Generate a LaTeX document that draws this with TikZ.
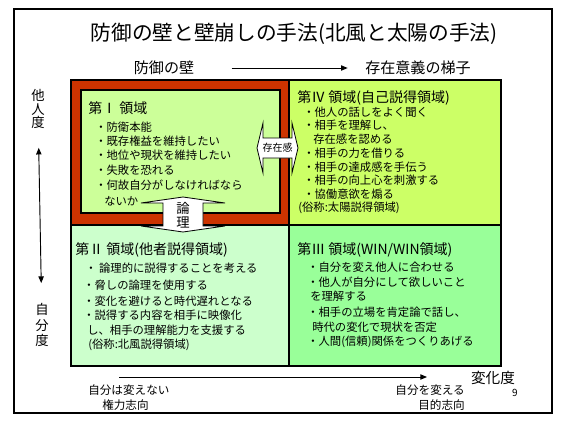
\documentclass[tikz,border=0pt]{standalone}
\usepackage{fontspec}
\setmainfont{Noto Sans CJK JP}
\usetikzlibrary{arrows.meta}
\definecolor{wallred}{HTML}{CC3300}
\definecolor{areaone}{HTML}{CCFF99}
\definecolor{areatwo}{HTML}{CCFFCC}
\definecolor{areathree}{HTML}{99FF99}
\definecolor{areafour}{HTML}{CCFF66}
\tikzset{
  pageframe/.style={draw=black, line width=0.8pt},
  gridline/.style={draw=black, line width=1.6pt},
  innerwall/.style={draw=black, fill=areaone, line width=1.6pt},
  axis/.style={-{Triangle[length=5pt,width=4pt]}, line width=0.7pt},
  bothaxis/.style={{Triangle[length=5pt,width=4pt]}-{Triangle[length=5pt,width=4pt]}, line width=0.7pt},
  arrowshape/.style={draw=black, fill=white, line width=0.6pt},
  headline/.style={inner sep=0pt, font=\fontsize{15.5}{18}\selectfont},
  sublabel/.style={inner sep=0pt, font=\fontsize{11.3}{13}\selectfont},
  sidelabel/.style={inner sep=0pt, align=center, font=\fontsize{10}{10.3}\selectfont},
  areatitle/.style={anchor=west, inner sep=0pt, font=\fontsize{10.5}{12}\selectfont},
  item/.style={anchor=west, inner sep=0pt, font=\fontsize{8.5}{10}\selectfont},
  axislabel/.style={inner sep=0pt, font=\fontsize{8.7}{10}\selectfont},
  arrowlabel/.style={inner sep=0pt, align=center}
}

\begin{document}
\begin{tikzpicture}[x=0.75pt, y=-0.75pt]
  \useasboundingbox (0,0) rectangle (564,421);
  \draw[pageframe] (14,9) rectangle (552,413);

  % heading
  \node[headline] (title) at (294,34) {防御の壁と壁崩しの手法(北風と太陽の手法)};
  \node[sublabel] (wall) at (164,68) {防御の壁};
  \node[sublabel] (ladder) at (418,68) {存在意義の梯子};
  \draw[axis, shorten <=28pt, shorten >=13pt] (wall) -- (ladder);

  % side axis
  \node[sidelabel] (other) at (38,109) {他\\人\\度};
  \node[sidelabel, font=\fontsize{10}{11.6}\selectfont] (self) at (42,325) {自\\分\\度};
  \draw[bothaxis, shorten <=14pt, shorten >=15pt] (other) -- (self);

  % four areas
  \fill[wallred] (71,80) rectangle (289,225);
  \fill[areafour] (289,80) rectangle (501,225);
  \fill[areatwo] (71,225) rectangle (289,366);
  \fill[areathree] (289,225) rectangle (501,366);
  \draw[innerwall] (81,90) rectangle (280,213);
  \draw[gridline] (71,80) rectangle (501,366);
  \draw[gridline] (289,80) -- (289,366);
  \draw[gridline] (71,225) -- (501,225);

  % area I
  \node[areatitle] (q1title) at (88,108) {第Ⅰ 領域};
  \node[item] (q1a) at (95,127) {・防衛本能};
  \node[item] (q1b) at (95,141) {・既存権益を維持したい};
  \node[item] (q1c) at (95,155) {・地位や現状を維持したい};
  \node[item] (q1d) at (95,170) {・失敗を恐れる};
  \node[item] (q1e) at (95,185) {・何故自分がしなければなら};
  \node[item] (q1f) at (104,201) {ないか};

  % area IV
  \node[areatitle] (q4title) at (297,98) {第Ⅳ 領域(自己説得領域)};
  \node[item] (q4a) at (303,112) {・他人の話しをよく聞く};
  \node[item] (q4b) at (303,125) {・相手を理解し、};
  \node[item] (q4c) at (313,139) {存在感を認める};
  \node[item] (q4d) at (303,153) {・相手の力を借りる};
  \node[item] (q4e) at (303,167) {・相手の達成感を手伝う};
  \node[item] (q4f) at (303,180) {・相手の向上心を刺激する};
  \node[item] (q4g) at (303,194) {・協働意欲を煽る};
  \node[item] (q4h) at (298,208) {(俗称:太陽説得領域)};

  % area II
  \node[areatitle] (q2title) at (75,250) {第Ⅱ 領域(他者説得領域)};
  \node[item] (q2a) at (85,268) {・ 論理的に説得することを考える};
  \node[item] (q2b) at (83,285) {・脅しの論理を使用する};
  \node[item] (q2c) at (83,301) {・変化を避けると時代遅れとなる};
  \node[item] (q2d) at (83,315) {・説得する内容を相手に映像化};
  \node[item] (q2e) at (87,330) {し、相手の理解能力を支援する};
  \node[item] (q2f) at (88,345) {(俗称:北風説得領域)};

  % area III
  \node[areatitle] (q3title) at (297,250) {第Ⅲ 領域(WIN/WIN領域)};
  \node[item] (q3a) at (307,267) {・自分を変え他人に合わせる};
  \node[item] (q3b) at (307,282) {・他人が自分にして欲しいこと};
  \node[item] (q3c) at (310,296) {を理解する};
  \node[item] (q3d) at (307,312) {・相手の立場を肯定論で話し、};
  \node[item] (q3e) at (312,327) {時代の変化で現状を否定};
  \node[item] (q3f) at (307,342) {・人間(信頼)関係をつくりあげる};

  % arrows between areas
  \draw[arrowshape] (257,148) -- (263,123) -- (263,138) -- (292,138) -- (292,123) -- (298,148)
    -- (292,173) -- (292,158) -- (263,158) -- (263,173) -- cycle;
  \node[arrowlabel, font=\fontsize{7.5}{9}\selectfont] (exist) at (277.5,148) {存在感};
  \draw[arrowshape] (183,197) -- (225,203) -- (203,203) -- (203,226) -- (225,226) -- (183,232)
    -- (141,226) -- (163,226) -- (163,203) -- (141,203) -- cycle;
  \node[arrowlabel, font=\fontsize{10}{10.5}\selectfont] (logic) at (183,215) {論\\理};

  % bottom axis
  \coordinate (lo) at (119,377);
  \coordinate (hi) at (427,377);
  \draw[axis] (lo) -- (hi);
  \node[axislabel, anchor=west] (keep) at (88,390) {自分は変えない};
  \node[axislabel, anchor=west] (power) at (102,405) {権力志向};
  \node[axislabel, anchor=east] (change) at (465,390) {自分を変える};
  \node[axislabel, anchor=east] (purpose) at (465,405) {目的志向};
  \node[sublabel, font=\fontsize{11}{13}\selectfont] (degree) at (493,378) {変化度};
  \node[inner sep=0pt, font=\fontsize{7.5}{9}\selectfont] (page) at (515,393) {9};
\end{tikzpicture}
\end{document}
